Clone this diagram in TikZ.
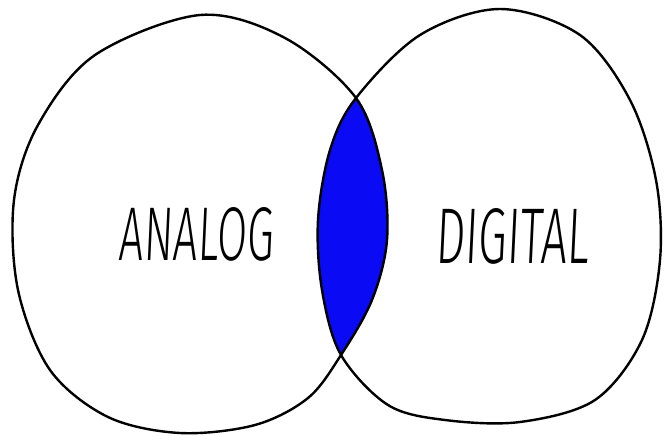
\documentclass[tikz,border=0pt]{standalone}
\usepackage{fontspec}
\setmainfont{Liberation Sans}
\newfontfamily\handfont{Fira Sans}[UprightFont={* Light},FakeSlant=0.08]
\definecolor{lensblue}{RGB}{10,10,245}
\begin{document}
\begin{tikzpicture}[x=1pt,y=-1pt,
  outline/.style={draw=black,line width=2.4pt,line join=round},
  label/.style={inner sep=0pt,font=\handfont}]
\useasboundingbox (0,0) rectangle (664,436);
\def\leftshape{plot[smooth cycle,tension=0.55] coordinates {(200,15) (285,38) (356,98) (382,170) (387,240) (372,300) (341,355) (308,398) (255,425) (180,433) (108,417) (50,370) (18,290) (14,200) (38,125) (95,55)}}
\def\rightshape{plot[smooth cycle,tension=0.55] coordinates {(500,9) (580,35) (630,100) (656,180) (660,260) (642,340) (595,400) (520,422) (445,420) (388,405) (341,355) (322,290) (318,220) (330,150) (356,98) (420,35)}}
\begin{scope}
  \clip \rightshape;
  \fill[lensblue] \leftshape;
\end{scope}
\draw[outline] \leftshape;
\draw[outline] \rightshape;
\node[label] (analog) at (196,234) {\resizebox{154pt}{53pt}{ANALOG}};
\node[label] (digital) at (512,236) {\resizebox{153pt}{55pt}{DIGITAL}};
\end{tikzpicture}
\end{document}
